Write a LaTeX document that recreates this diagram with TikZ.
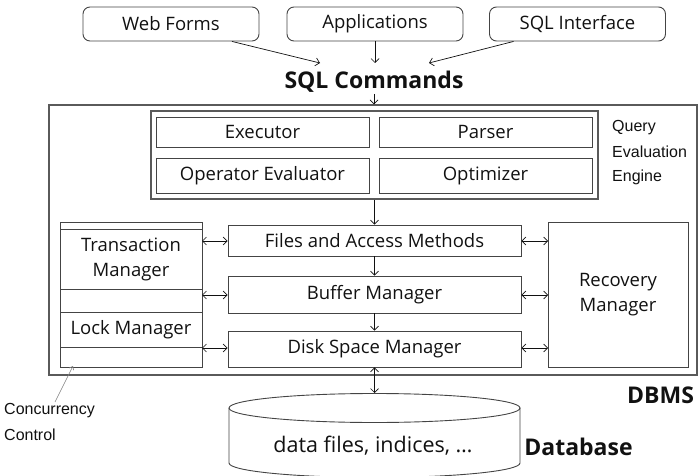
\documentclass[tikz,border=0pt]{standalone}
\usepackage{fontspec}
\setmainfont{Open Sans}
\newfontfamily\notefont{Liberation Sans}
\usetikzlibrary{arrows.meta}
\definecolor{edge}{HTML}{444444}
\definecolor{frame}{HTML}{5A5A5A}
\definecolor{ink}{HTML}{111111}
\begin{document}
\begin{tikzpicture}[x=1pt,y=-1pt,
  txt/.style={text=ink, inner sep=0pt, font=\fontsize{18.5}{25}\selectfont},
  box/.style={txt, draw=edge, line width=0.9pt, align=center},
  client/.style={box, rounded corners=7pt, minimum width=176pt, minimum height=34pt},
  layer/.style={box, minimum width=293pt},
  qbox/.style={box, minimum width=213pt},
  side/.style={box, minimum width=142pt},
  title/.style={text=ink, inner sep=0pt, font=\fontsize{23}{26}\selectfont\bfseries},
  note/.style={text=ink, inner sep=0pt, anchor=west, font=\notefont\fontsize{16}{18}\selectfont},
  arr/.style={draw=ink, line width=0.7pt, -{Straight Barb[length=4pt,width=8pt]}},
  darr/.style={draw=ink, line width=0.7pt, {Straight Barb[length=4pt,width=8pt]}-{Straight Barb[length=4pt,width=8pt]}}]
\useasboundingbox (0,0) rectangle (699,476);

% client programs
\node[client] (web) at (171,24) {Web Forms};
\node[client] (app) at (375,24) {Applications};
\node[client] (sqli) at (577.5,24) {SQL Interface};
\coordinate (inL) at (320,63);
\coordinate (inM) at (375,63);
\coordinate (inR) at (429,63);
\draw[arr] ([xshift=61pt]web.south) -- (inL);
\draw[arr] (app.south) -- (inM);
\draw[arr] ([xshift=-64pt]sqli.south) -- (inR);
\node[title] (cmd) at (374,82) {SQL Commands};

% DBMS frame
\node[draw=frame, line width=1.2pt, inner sep=0pt, minimum width=648pt, minimum height=270pt] (dbms) at (373,240) {};
\draw[arr] ([yshift=-12pt]cmd.center) -- (dbms.north -| cmd);

% query evaluation engine
\node[draw=frame, line width=1.6pt, inner sep=0pt, minimum width=447pt, minimum height=88pt] (qee) at (374.5,155) {};
\node[qbox, minimum height=30pt] (exec) at (262.5,132) {Executor};
\node[qbox, minimum height=30pt] (parse) at (485.5,132) {Parser};
\node[qbox, minimum height=35pt] (opev) at (262.5,175.5) {Operator Evaluator};
\node[qbox, minimum height=35pt] (optim) at (485.5,175.5) {Optimizer};
\node[note] (q1) at (612,128) {Query};
\node[note] (q2) at (612,152) {Evaluation};
\node[note] (q3) at (612,177) {Engine};

% storage layers
\node[layer, minimum height=31pt] (files) at (374.5,240.5) {Files and Access Methods};
\node[layer, minimum height=37pt] (buf) at (374.5,294.5) {Buffer Manager};
\node[layer, minimum height=36pt] (disk) at (374.5,349) {Disk Space Manager};
\draw[arr] (qee.south -| files) -- (files.north);
\draw[arr] (files) -- (buf);
\draw[arr] (buf) -- (disk);

% concurrency control
\node[draw=edge, line width=0.9pt, inner sep=0pt, minimum width=142pt, minimum height=145pt] (cc) at (131,294.5) {};
\node[side, minimum height=60pt] (tm) at (131,259) {Transaction\\Manager};
\node[side, minimum height=35pt] (lm) at (131,329.5) {Lock Manager};

% recovery
\node[box, minimum width=140pt, minimum height=145pt] (rec) at (618,294.5) {Recovery\\Manager};

% links to the side managers
\coordinate (l1) at (202,241); \coordinate (l2) at (202,295); \coordinate (l3) at (202,348);
\coordinate (r1) at (548,241); \coordinate (r2) at (548,295); \coordinate (r3) at (548,348);
\draw[darr] (l1) -- (l1 -| files.west);
\draw[darr] (l2) -- (l2 -| buf.west);
\draw[darr] (l3) -- (l3 -| disk.west);
\draw[darr] (r1 -| files.east) -- (r1);
\draw[darr] (r2 -| buf.east) -- (r2);
\draw[darr] (r3 -| disk.east) -- (r3);

% database cylinder
\coordinate (dbtop) at (374.5,393);
\draw[darr] (disk.south) -- (dbtop);
\draw[draw=edge, line width=0.9pt] (374.5,408) ellipse [x radius=145.5pt, y radius=14.5pt];
\draw[draw=edge, line width=0.9pt] (229,408) -- (229,463)
  arc[start angle=180, end angle=360, x radius=145.5pt, y radius=14.5pt] -- (520,408);
\node[txt, font=\fontsize{21.5}{25}\selectfont] (data) at (373,446) {data files, indices, \dots};

\node[title] (dbmsl) at (660.5,395) {DBMS};
\node[title] (dbl) at (578.5,447) {Database};

% concurrency control label
\node[note] (cc1) at (4,411) {Concurrency};
\node[note] (cc2) at (4,435) {Control};
\coordinate (ccp) at (55,402);
\draw[draw=gray, line width=0.6pt, -{Straight Barb[length=3pt,width=5pt]}] (ccp) -- (73,366);
\end{tikzpicture}
\end{document}
